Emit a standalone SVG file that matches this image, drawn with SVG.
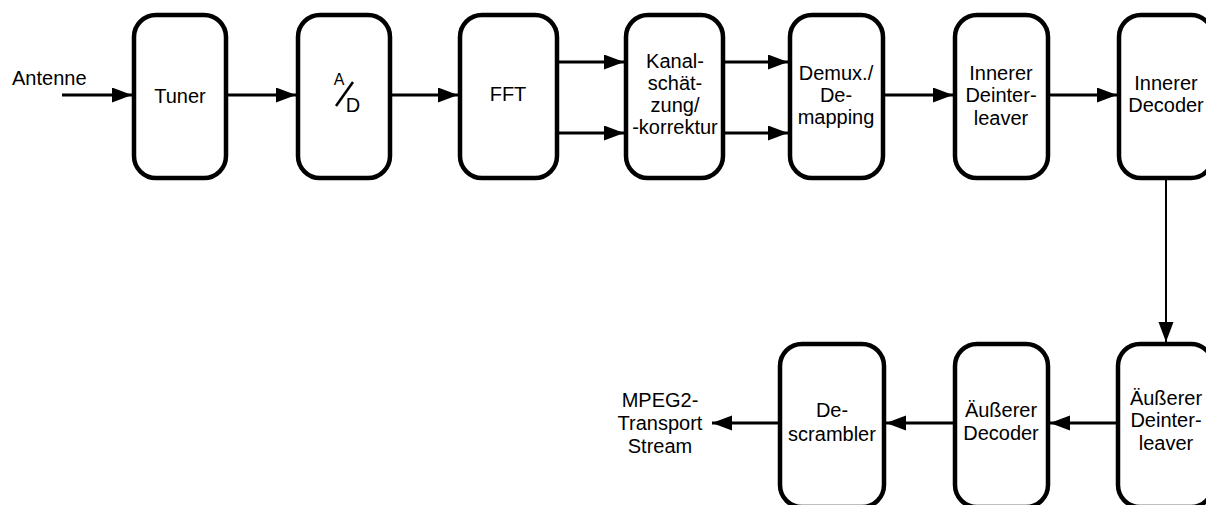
<svg xmlns="http://www.w3.org/2000/svg" width="1206" height="505" viewBox="0 0 1206 505">
<style>
.box{fill:#fff;stroke:#000;stroke-width:4.5}
.t{font-family:"Liberation Sans",Arial,sans-serif;font-size:20px;fill:#000;text-anchor:middle}
.c{stroke:#000;stroke-width:3;fill:none;marker-end:url(#ah)}
.v{stroke:#000;stroke-width:2;fill:none;marker-end:url(#ah)}
</style>
<defs>
<marker id="ah" markerUnits="userSpaceOnUse" markerWidth="20" markerHeight="16" refX="20" refY="7.5" orient="auto">
<path d="M0,0 L20,7.5 L0,15 Z" fill="#000"/>
</marker>
</defs>
<rect width="1206" height="505" fill="#fff"/>
<g id="connectors">
<line class="c" x1="62" y1="95" x2="132" y2="95"/>
<line class="c" x1="228" y1="95" x2="296" y2="95"/>
<line class="c" x1="392" y1="95" x2="458" y2="95"/>
<line class="c" x1="559" y1="62" x2="624" y2="62"/>
<line class="c" x1="559" y1="133" x2="624" y2="133"/>
<line class="c" x1="725" y1="62" x2="788" y2="62"/>
<line class="c" x1="725" y1="133" x2="788" y2="133"/>
<line class="c" x1="885" y1="95" x2="953" y2="95"/>
<line class="c" x1="1050" y1="95" x2="1117" y2="95"/>
<line class="v" x1="1166" y1="180" x2="1166" y2="342"/>
<line class="c" x1="1116" y1="423" x2="1050" y2="423"/>
<line class="c" x1="953" y1="423" x2="886" y2="423"/>
<line class="c" x1="778" y1="423" x2="712" y2="423"/>
</g>
<g id="antenne"><text class="t" x="12" y="85" style="text-anchor:start">Antenne</text></g>
<g id="tuner"><rect class="box" x="134" y="15" width="92" height="163" rx="22"/><text class="t" x="180" y="103">Tuner</text></g>
<g id="ad"><rect class="box" x="298" y="15" width="92" height="163" rx="22"/>
<text class="t" x="339" y="85" style="font-size:16px">A</text>
<line x1="336" y1="106" x2="353" y2="82" stroke="#000" stroke-width="2.5"/>
<text class="t" x="353" y="112">D</text></g>
<g id="fft"><rect class="box" x="460" y="15" width="97" height="163" rx="22"/><text class="t" x="508" y="101">FFT</text></g>
<g id="kanal"><rect class="box" x="626" y="15" width="97" height="163" rx="22"/>
<text class="t" x="675" y="68">Kanal-</text><text class="t" x="675" y="90">schät-</text><text class="t" x="675" y="112">zung/</text><text class="t" x="675" y="134">-korrektur</text></g>
<g id="demux"><rect class="box" x="790" y="15" width="93" height="163" rx="22"/>
<text class="t" x="836" y="80">Demux./</text><text class="t" x="836" y="102">De-</text><text class="t" x="836" y="124">mapping</text></g>
<g id="inner-deint"><rect class="box" x="955" y="15" width="93" height="163" rx="22"/>
<text class="t" x="1001" y="80">Innerer</text><text class="t" x="1001" y="102">Deinter-</text><text class="t" x="1001" y="125">leaver</text></g>
<g id="inner-dec"><rect class="box" x="1119" y="15" width="94" height="163" rx="22"/>
<text class="t" x="1166" y="90">Innerer</text><text class="t" x="1166" y="112">Decoder</text></g>
<g id="outer-deint"><rect class="box" x="1118" y="344" width="95" height="163" rx="22"/>
<text class="t" x="1166" y="405">Äußerer</text><text class="t" x="1166" y="427">Deinter-</text><text class="t" x="1166" y="450">leaver</text></g>
<g id="outer-dec"><rect class="box" x="955" y="344" width="93" height="163" rx="22"/>
<text class="t" x="1001" y="417">Äußerer</text><text class="t" x="1001" y="440">Decoder</text></g>
<g id="descrambler"><rect class="box" x="780" y="344" width="104" height="163" rx="22"/>
<text class="t" x="832" y="417">De-</text><text class="t" x="832" y="441">scrambler</text></g>
<g id="mpeg"><text class="t" x="660" y="407">MPEG2-</text><text class="t" x="660" y="430">Transport</text><text class="t" x="660" y="453">Stream</text></g>
</svg>
